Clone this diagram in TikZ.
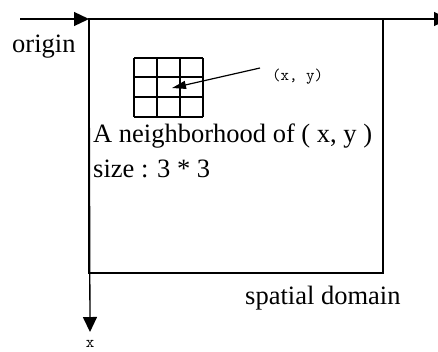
\documentclass[tikz,border=0pt]{standalone}
\usepackage{fontspec}
\setmainfont{Liberation Serif}
\usetikzlibrary{arrows.meta}
\begin{document}
\begin{tikzpicture}[x=1pt,y=-1pt,
  axis/.style={line width=1.3pt,-{Triangle[length=15pt,width=14pt]}},
  frame/.style={line width=1.3pt},
  gridline/.style={line width=1.2pt},
  pointer/.style={line width=1.2pt,-{Triangle[length=14pt,width=8pt]}},
  bigtext/.style={inner sep=0pt,anchor=base west,font=\fontsize{26.5}{30}\selectfont},
  smalltext/.style={inner sep=0pt,anchor=base west,font=\ttfamily\fontsize{16.5}{18}\selectfont}]
\useasboundingbox (0,0) rectangle (438,351);
% axes
\coordinate (start) at (20,19);
\coordinate (O) at (89,19);
\coordinate (yend) at (449,19);
\coordinate (xend) at (90,332);
\draw[axis] (start) -- (O);
\draw[axis] (O) -- (yend);
\draw[axis] (O) -- (xend);
% spatial domain frame
\coordinate (BR) at (383,273);
\draw[frame] (O) rectangle (BR);
% 3x3 neighbourhood
\foreach \x in {134,157,180,203} \draw[gridline] (\x,58) -- (\x,117);
\foreach \y in {58,77,97,117} \draw[gridline] (134,\y) -- (203,\y);
\coordinate (c) at (172,88);
% labels
\node[bigtext] (origin) at (12,52) {origin};
\node[smalltext] (xy) at (272,80) {(x, y)};
\coordinate (tail) at (260,68);
\draw[pointer] (tail) -- (c);
\node[bigtext] (neigh) at (93,142) {A neighborhood of ( x, y )};
\node[bigtext] (size) at (93,177) {size : 3 * 3};
\node[bigtext] (dom) at (245,304) {spatial domain};
\node[smalltext,anchor=base] (xl) at (90,347) {x};
\end{tikzpicture}
\end{document}
